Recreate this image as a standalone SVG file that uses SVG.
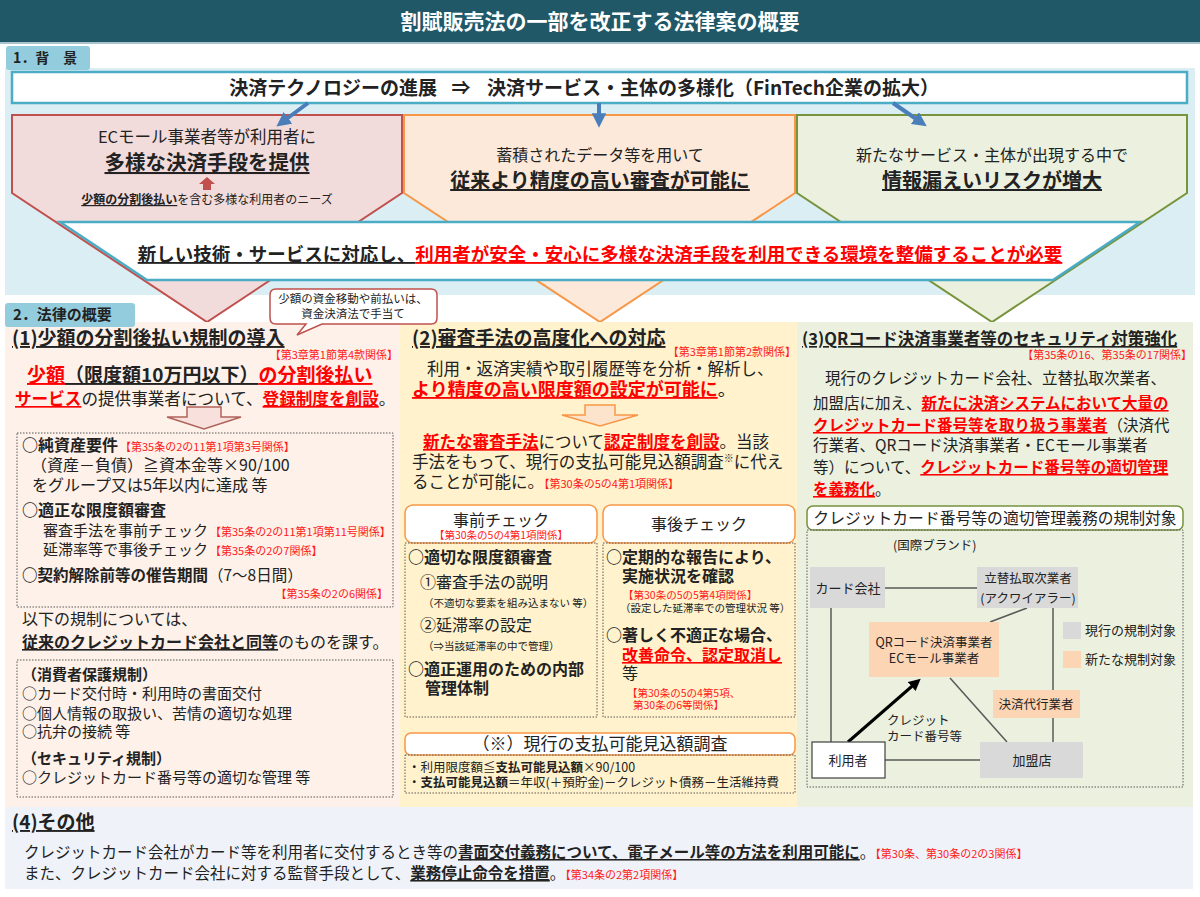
<svg xmlns="http://www.w3.org/2000/svg" width="1200" height="897" viewBox="0 0 1200 897">
<defs>
<style>
text{font-family:"Noto Sans CJK JP","Noto Sans",sans-serif;fill:#222222}
.b{font-weight:bold}
.u{text-decoration:underline}
.r{fill:#FF0000}
.ref{fill:#FF1A1A;font-size:11px;font-weight:normal}
.dot{fill:none;stroke:#595959;stroke-width:1;stroke-dasharray:1.5 1.5}
.tab{fill:#93CDDD}
.conn{stroke:#595959;stroke-width:1.5;fill:none}
.gray{fill:#D9D9D9}
.peach{fill:#FCD5B4}
.ob{fill:#FFFFFF;stroke:#F79646;stroke-width:1.5}
</style>
<marker id="blueHead" viewBox="0 0 10 10" refX="6" refY="5" markerWidth="3.6" markerHeight="3.6" orient="auto">
<path d="M0,0 L10,5 L0,10 z" fill="#4A7EBB"/>
</marker>
<marker id="blackHead" viewBox="0 0 10 10" refX="7" refY="5" markerWidth="4" markerHeight="4" orient="auto">
<path d="M0,0 L10,5 L0,10 z" fill="#000000"/>
</marker>
</defs>
<rect x="0" y="0" width="1200" height="897" fill="#FFFFFF"/>

<g id="title">
<rect x="0" y="0" width="1200" height="42" fill="#215868"/>
<line x1="0" y1="43" x2="1200" y2="43" stroke="#A9C4CC" stroke-width="2"/>
<text x="600" y="29" text-anchor="middle" class="b" font-size="21" style="fill:#FFFFFF">割賦販売法の一部を改正する法律案の概要</text>
</g>

<g id="section1">
<rect x="5" y="68" width="1190" height="227" fill="#DAEEF3"/>
<rect x="6" y="46" width="84" height="24" rx="3" class="tab"/>
<text x="13" y="63" class="b" font-size="14">1．背　景</text>
</g>

<g id="pentagon-red">
<polygon points="12,115 402,115 402,193 207,322 12,193" fill="#F2DCDB" stroke="#C0504D" stroke-width="2"/>
<text x="207" y="143" text-anchor="middle" font-size="16.5">ECモール事業者等が利用者に</text>
<text x="207" y="170" text-anchor="middle" class="b u" font-size="20.5">多様な決済手段を提供</text>
<polygon points="199,184 207,177 215,184 211,184 211,190 203,190 203,184" fill="#C0504D"/>
<text x="207" y="204" text-anchor="middle" font-size="12"><tspan class="b u">少額の分割後払い</tspan>を含む多様な利用者のニーズ</text>
</g>

<g id="pentagon-orange">
<polygon points="404,115 795,115 795,193 600,322 404,193" fill="#FDE9D9" stroke="#F79646" stroke-width="2"/>
<text x="600" y="161" text-anchor="middle" font-size="16">蓄積されたデータ等を用いて</text>
<text x="600" y="188" text-anchor="middle" class="b u" font-size="20">従来より精度の高い審査が可能に</text>
</g>

<g id="pentagon-green">
<polygon points="797,115 1187,115 1187,193 992,322 797,193" fill="#EBF1DE" stroke="#77933C" stroke-width="2"/>
<text x="992" y="161" text-anchor="middle" font-size="16">新たなサービス・主体が出現する中で</text>
<text x="992" y="188" text-anchor="middle" class="b u" font-size="20">情報漏えいリスクが増大</text>
</g>

<g id="banner">
<polygon points="60,222 1140,222 1053,280 147,280" fill="#FFFFFF" stroke="#4BACC6" stroke-width="2.5"/>
<text x="600" y="261" text-anchor="middle" class="b" font-size="18.5"><tspan class="u">新しい技術・サービスに対応し、</tspan><tspan class="r u">利用者が安全・安心に多様な決済手段を利用できる環境を整備することが必要</tspan></text>
</g>

<g id="top-box">
<rect x="12" y="72" width="1175" height="31" fill="#FFFFFF" stroke="#4BACC6" stroke-width="2.5"/>
<text x="437" y="95" text-anchor="end" class="b" font-size="19">決済テクノロジーの進展</text>
<text x="461" y="95" text-anchor="middle" class="b" font-size="19">⇒</text>
<text x="487" y="95" class="b" font-size="19">決済サービス・主体の多様化（FinTech企業の拡大）</text>
</g>

<g id="panel1">
<rect x="5" y="322" width="395" height="485" fill="#FDF1E9"/>
</g>
<g id="panel2">
<rect x="400" y="322" width="397" height="485" fill="#FFF2CC"/>
</g>
<g id="panel3">
<rect x="797" y="322" width="396" height="485" fill="#EBF1DE"/>
</g>
<g id="section4">
<rect x="5" y="807" width="1188" height="82" fill="#EFF3F9"/>
</g>

<g id="section2-tab">
<rect x="5" y="303" width="130" height="24" rx="3" class="tab"/>
<text x="13" y="320" class="b" font-size="15">2．法律の概要</text>
</g>

<g id="callout">
<path d="M276,289 H431 Q437,289 437,295 V318 Q437,324 431,324 H322 L297,335 L306,324 H276 Q270,324 270,318 V295 Q270,289 276,289 Z" fill="#FFFFFF" stroke="#C0504D" stroke-width="1.5"/>
<text x="353" y="303" text-anchor="middle" font-size="11.5">少額の資金移動や前払いは、</text>
<text x="353" y="318" text-anchor="middle" font-size="11.5">資金決済法で手当て</text>
</g>

<g id="content1">
<text x="12" y="345" class="b u" font-size="19">(1)少額の分割後払い規制の導入</text>
<text x="398" y="359" text-anchor="end" class="ref">【第3章第1節第4款関係】</text>
<text x="27" y="382" class="b" font-size="19"><tspan class="r u">少額</tspan><tspan class="u">（限度額10万円以下）</tspan><tspan class="r u">の分割後払い</tspan></text>
<text x="15" y="405" font-size="16.6"><tspan class="b r u">サービス</tspan>の提供事業者について、<tspan class="b r u">登録制度を創設</tspan>。</text>
<polygon points="187,407 221,407 221,417 241,417 204,429 167,417 187,417" fill="#F8E1DC" stroke="#B0625A" stroke-width="1.5"/>
<rect x="17" y="433" width="376" height="174" class="dot"/>
<text x="22" y="451" font-size="16"><tspan class="b">○純資産要件</tspan><tspan class="ref" dx="2">【第35条の2の11第1項第3号関係】</tspan></text>
<text x="31" y="471" font-size="16">（資産－負債）≧資本金等×90/100</text>
<text x="32" y="491" font-size="16">をグループ又は5年以内に達成 等</text>
<text x="22" y="516" class="b" font-size="16">○適正な限度額審査</text>
<text x="43" y="536" font-size="15">審査手法を事前チェック<tspan class="ref" dx="2">【第35条の2の11第1項第11号関係】</tspan></text>
<text x="43" y="555" font-size="15">延滞率等で事後チェック<tspan class="ref" dx="2">【第35条の2の7関係】</tspan></text>
<text x="22" y="581" font-size="15.5"><tspan class="b">○契約解除前等の催告期間</tspan>（7～8日間）</text>
<text x="388" y="598" text-anchor="end" class="ref">【第35条の2の6関係】</text>
<text x="22" y="625" font-size="16">以下の規制については、</text>
<text x="22" y="648" font-size="16"><tspan class="b u">従来のクレジットカード会社と同等</tspan>のものを課す。</text>
<rect x="17" y="660" width="376" height="137" class="dot"/>
<text x="22" y="680" class="b" font-size="15">（消費者保護規制）</text>
<text x="22" y="699" font-size="15">○カード交付時・利用時の書面交付</text>
<text x="22" y="719" font-size="15">○個人情報の取扱い、苦情の適切な処理</text>
<text x="22" y="737" font-size="15">○抗弁の接続 等</text>
<text x="22" y="764" class="b" font-size="15">（セキュリティ規制）</text>
<text x="22" y="783" font-size="15">○クレジットカード番号等の適切な管理 等</text>
</g>

<g id="content2">
<text x="412" y="345" class="b u" font-size="19">(2)審査手法の高度化への対応</text>
<text x="796" y="356" text-anchor="end" class="ref">【第3章第1節第2款関係】</text>
<text x="427" y="375" font-size="16.5">利用・返済実績や取引履歴等を分析・解析し、</text>
<text x="412" y="396" font-size="18"><tspan class="b r u">より精度の高い限度額の設定が可能に</tspan>。</text>
<polygon points="585,405 615,405 615,415 638,415 600,426 562,415 585,415" fill="#FCE4CC" stroke="#F79646" stroke-width="1.5"/>
<text x="423" y="448" font-size="16.5"><tspan class="b r u">新たな審査手法</tspan>について<tspan class="b r u">認定制度を創設</tspan>。当該</text>
<text x="412" y="468" font-size="16.5">手法をもって、現行の支払可能見込額調査<tspan font-size="10" dy="-6">※</tspan><tspan dy="6">に代え</tspan></text>
<text x="412" y="488" font-size="16.5">ることが可能に。<tspan class="ref">【第30条の5の4第1項関係】</tspan></text>

<rect x="405" y="505" width="192" height="38" rx="8" class="ob"/>
<text x="501" y="526" text-anchor="middle" font-size="16">事前チェック</text>
<text x="501" y="539" text-anchor="middle" class="ref" style="font-size:10.5px">【第30条の5の4第1項関係】</text>
<rect x="405" y="543" width="192" height="174" class="dot"/>
<text x="408" y="563" class="b" font-size="16">○適切な限度額審査</text>
<text x="420" y="588" font-size="16">①審査手法の説明</text>
<text x="423" y="607" font-size="10.5">（不適切な要素を組み込まない 等）</text>
<text x="420" y="631" font-size="16">②延滞率の設定</text>
<text x="423" y="650" font-size="10.5">（⇒当該延滞率の中で管理）</text>
<text x="408" y="675" class="b" font-size="16">○適正運用のための内部</text>
<text x="425" y="694" class="b" font-size="16">管理体制</text>

<rect x="603" y="505" width="192" height="38" rx="8" class="ob"/>
<text x="699" y="530" text-anchor="middle" font-size="16">事後チェック</text>
<rect x="603" y="543" width="192" height="174" class="dot"/>
<text x="606" y="563" class="b" font-size="16">○定期的な報告により、</text>
<text x="622" y="582" class="b" font-size="16">実施状況を確認</text>
<text x="623" y="599" class="ref" style="font-size:10.5px">【第30条の5の5第4項関係】</text>
<text x="620" y="612" font-size="10.5">（設定した延滞率での管理状況 等）</text>
<text x="606" y="641" class="b" font-size="16">○著しく不適正な場合、</text>
<text x="622" y="661" class="b r u" font-size="16">改善命令、認定取消し</text>
<text x="622" y="679" font-size="16">等</text>
<text x="627" y="697" class="ref" style="font-size:10.5px">【第30条の5の4第5項、</text>
<text x="633" y="709" class="ref" style="font-size:10.5px">第30条の6等関係】</text>

<rect x="405" y="733" width="390" height="22" rx="6" class="ob"/>
<text x="600" y="750" text-anchor="middle" font-size="17">（※）現行の支払可能見込額調査</text>
<rect x="405" y="755" width="390" height="38" class="dot"/>
<text x="408" y="772" font-size="12.5">・利用限度額≦<tspan class="b">支払可能見込額</tspan>×90/100</text>
<text x="408" y="787" font-size="12.5">・<tspan class="b">支払可能見込額</tspan>＝年収(＋預貯金)－クレジット債務－生活維持費</text>
</g>

<g id="content3">
<text x="802" y="345" class="b u" font-size="16.5">(3)QRコード決済事業者等のセキュリティ対策強化</text>
<text x="1192" y="359" text-anchor="end" class="ref">【第35条の16、第35条の17関係】</text>
<text x="825" y="384" font-size="15.5">現行のクレジットカード会社、立替払取次業者、</text>
<text x="813" y="409" font-size="15.5">加盟店に加え、<tspan class="b r u">新たに決済システムにおいて大量の</tspan></text>
<text x="813" y="431" font-size="15.5"><tspan class="b r u">クレジットカード番号等を取り扱う事業者</tspan>（決済代</text>
<text x="813" y="451" font-size="15.5">行業者、QRコード決済事業者・ECモール事業者</text>
<text x="813" y="473" font-size="15.5">等）について、<tspan class="b r u">クレジットカード番号等の適切管理</tspan></text>
<text x="813" y="495" font-size="15.5"><tspan class="b r u">を義務化</tspan>。</text>
<rect x="807" y="506" width="376" height="24" rx="6" fill="#FFFFFF" stroke="#77933C" stroke-width="1.5"/>
<text x="995" y="524" text-anchor="middle" font-size="15.8">クレジットカード番号等の適切管理義務の規制対象</text>
<rect x="807" y="530" width="376" height="257" class="dot"/>
<text x="893" y="550" font-size="12.5">(国際ブランド)</text>
</g>

<g id="connectors">
<line x1="308" y1="103" x2="281" y2="123" stroke="#4A7EBB" stroke-width="4" marker-end="url(#blueHead)"/>
<line x1="599" y1="103" x2="599" y2="122" stroke="#4A7EBB" stroke-width="4" marker-end="url(#blueHead)"/>
<line x1="893" y1="103" x2="922" y2="123" stroke="#4A7EBB" stroke-width="4" marker-end="url(#blueHead)"/>
<line x1="885" y1="588" x2="977" y2="588" class="conn"/>
<line x1="1027" y1="608" x2="990" y2="622" class="conn"/>
<line x1="831" y1="608" x2="831" y2="742" class="conn"/>
<line x1="1053" y1="608" x2="1053" y2="690" class="conn"/>
<line x1="1053" y1="718" x2="1053" y2="742" class="conn"/>
<line x1="950" y1="678" x2="1007" y2="742" class="conn"/>
<line x1="885" y1="760" x2="980" y2="760" class="conn"/>
<line x1="848" y1="742" x2="918" y2="681" stroke="#000000" stroke-width="3" marker-end="url(#blackHead)"/>
</g>

<g id="node-card">
<rect x="810" y="567" width="75" height="41" class="gray"/>
<text x="848" y="593" text-anchor="middle" font-size="13">カード会社</text>
</g>
<g id="node-acquirer">
<rect x="977" y="567" width="101" height="41" class="gray"/>
<text x="1028" y="583" text-anchor="middle" font-size="12.5">立替払取次業者</text>
<text x="1028" y="603" text-anchor="middle" font-size="12.5">(アクワイアラー)</text>
</g>
<g id="node-qr">
<rect x="869" y="622" width="130" height="55" class="peach"/>
<text x="934" y="647" text-anchor="middle" font-size="12.5">QRコード決済事業者</text>
<text x="934" y="663" text-anchor="middle" font-size="12.5">ECモール事業者</text>
</g>
<g id="node-agent">
<rect x="993" y="690" width="87" height="28" class="peach"/>
<text x="1036" y="709" text-anchor="middle" font-size="12.5">決済代行業者</text>
</g>
<g id="node-user">
<rect x="812" y="742" width="73" height="36" fill="#FFFFFF" stroke="#404040" stroke-width="1.2"/>
<text x="848" y="765" text-anchor="middle" font-size="13">利用者</text>
</g>
<g id="node-merchant">
<rect x="980" y="742" width="103" height="36" class="gray"/>
<text x="1032" y="765" text-anchor="middle" font-size="13">加盟店</text>
</g>
<g id="label-card">
<text x="887" y="725" font-size="12.5">クレジット</text>
<text x="887" y="741" font-size="12.5">カード番号等</text>
</g>
<g id="legend">
<rect x="1063" y="622" width="18" height="17" class="gray"/>
<text x="1085" y="635" font-size="13">現行の規制対象</text>
<rect x="1063" y="651" width="18" height="17" class="peach"/>
<text x="1085" y="664" font-size="13">新たな規制対象</text>
</g>

<g id="content4">
<text x="12" y="829" class="b u" font-size="19">(4)その他</text>
<text x="24" y="858" font-size="15.5">クレジットカード会社がカード等を利用者に交付するとき等の<tspan class="b u">書面交付義務について、電子メール等の方法を利用可能に</tspan>。<tspan class="ref">【第30条、第30条の2の3関係】</tspan></text>
<text x="24" y="879" font-size="15.5">また、クレジットカード会社に対する監督手段として、<tspan class="b u">業務停止命令を措置</tspan>。<tspan class="ref">【第34条の2第2項関係】</tspan></text>
</g>
</svg>
